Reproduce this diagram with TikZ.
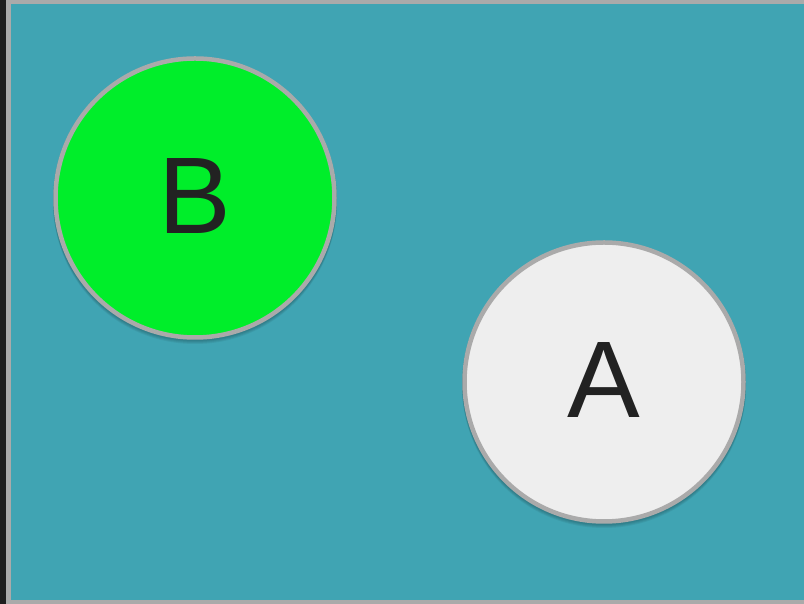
\documentclass[tikz,border=0pt]{standalone}
\usepackage{fontspec}
\setmainfont{Liberation Sans}
\definecolor{teal}{RGB}{64,164,179}
\definecolor{rimgray}{RGB}{170,170,170}
\definecolor{framedark}{RGB}{30,30,30}
\definecolor{nodewhite}{RGB}{238,238,238}
\definecolor{nodegreen}{RGB}{0,238,42}
\definecolor{inkdark}{RGB}{34,34,34}
\newcommand{\balllabel}[1]{\raisebox{4pt}{#1}}
\begin{document}
\begin{tikzpicture}[x=1pt,y=1pt,
  ball/.style={circle, draw=rimgray, line width=4.5pt, minimum size=279pt,
    inner sep=0pt, text=inkdark, font=\fontsize{109}{109}\selectfont},
  ballshadow/.style={fill=black, opacity=0.06}]
\useasboundingbox (0,0) rectangle (804,604);
% frame: dark strip on the left, gray rim, teal canvas
\fill[framedark] (0,0) rectangle (6,604);
\fill[rimgray] (6,0) rectangle (804,604);
\fill[teal] (11,4) rectangle (804,600);
% soft shadows under the balls
\foreach \cx/\cy in {195/406, 604/222} {
  \foreach \d in {1,2,3,4} {
    \fill[ballshadow] (\cx,\cy-\d) circle (142);
  }
}
\node[ball, fill=nodegreen] (b) at (195,406) {\balllabel{B}};
\node[ball, fill=nodewhite] (a) at (604,222) {\balllabel{A}};
\end{tikzpicture}
\end{document}
